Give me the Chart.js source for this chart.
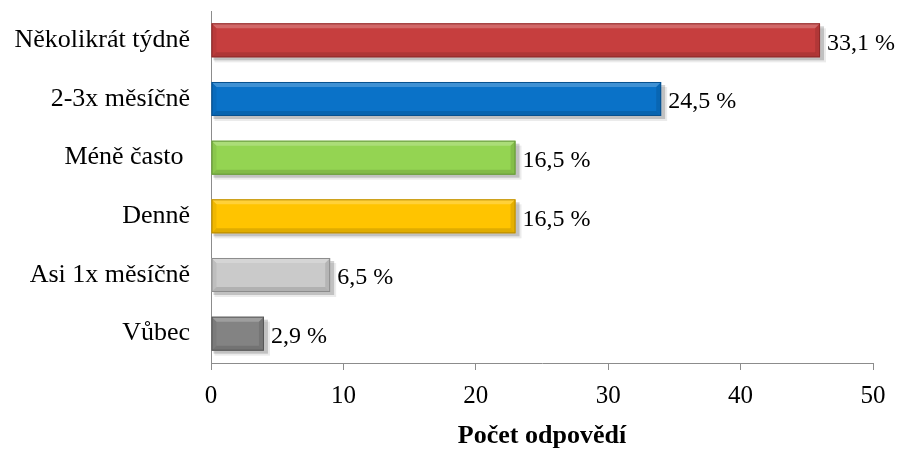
<!DOCTYPE html>
<html>
<head>
<meta charset="utf-8">
<script src="https://cdn.jsdelivr.net/npm/chart.js@4/dist/chart.umd.min.js"></script>
<style>
  html, body { margin: 0; padding: 0; background: #fff; }
  #wrap { width: 904px; height: 449px; }
</style>
</head>
<body>
<div id="wrap"><canvas id="c" width="904" height="449"></canvas></div>
<script>
const categories = ['Několikrát týdně', '2-3x měsíčně', 'Méně často ', 'Denně', 'Asi 1x měsíčně', 'Vůbec'];
const counts = [46, 34, 23, 23, 9, 4];
const percentLabels = ['33,1 %', '24,5 %', '16,5 %', '16,5 %', '6,5 %', '2,9 %'];
const xTicks = [0, 10, 20, 30, 40, 50];
const axisTitle = 'Počet odpovědí';

// bar palettes: [highlight, main, dark]
const palettes = [
  ['#F08A8A', '#C63E3E', '#8E2A2A'],
  ['#52B4F5', '#0A72C8', '#08508E'],
  ['#C2EE96', '#94D452', '#64963A'],
  ['#FFE36E', '#FFC400', '#B88A00'],
  ['#F4F4F4', '#CACACA', '#8C8C8C'],
  ['#B4B4B4', '#838383', '#565656']
];

const FONT = "'Liberation Serif', 'Times New Roman', serif";

function barGradient(ctx, i) {
  const chart = ctx.chart;
  const el = chart.getDatasetMeta(0).data[i];
  if (!el || el.y === undefined || isNaN(el.y)) return palettes[i][1];
  const h = el.height;
  const top = el.y - h / 2;
  const g = chart.ctx.createLinearGradient(0, top, 0, top + h);
  const p = palettes[i];
  g.addColorStop(0, p[0]);
  g.addColorStop(0.2, p[1]);
  g.addColorStop(0.72, p[1]);
  g.addColorStop(1, p[2]);
  return g;
}

const bevelPlugin = {
  id: 'bevel',
  beforeDatasetsDraw(chart) {
    const ctx = chart.ctx;
    const meta = chart.getDatasetMeta(0);
    ctx.save();
    meta.data.forEach((el) => {
      const h = el.height;
      const top = el.y - h / 2;
      ctx.fillStyle = 'rgba(0,0,0,0.18)';
      ctx.fillRect(el.base + 2, top + 3, el.x - el.base + 2, h);
      ctx.fillStyle = 'rgba(0,0,0,0.08)';
      ctx.fillRect(el.base + 3, top + 5, el.x - el.base + 3, h);
    });
    ctx.restore();
  },
  afterDatasetsDraw(chart) {
    const ctx = chart.ctx;
    const meta = chart.getDatasetMeta(0);
    ctx.save();
    meta.data.forEach((el, i) => {
      const h = el.height;
      const top = el.y - h / 2;
      const bot = top + h;
      const x0 = el.base, x1 = el.x;
      const b = 5;
      const p = palettes[i];
      ctx.fillStyle = 'rgba(255,255,255,0.22)';
      ctx.beginPath();
      ctx.moveTo(x0, top); ctx.lineTo(x1, top); ctx.lineTo(x1 - b, top + b); ctx.lineTo(x0 + b, top + b); ctx.closePath();
      ctx.fill();
      ctx.fillStyle = 'rgba(0,0,0,0.12)';
      ctx.beginPath();
      ctx.moveTo(x0, bot); ctx.lineTo(x1, bot); ctx.lineTo(x1 - b, bot - b); ctx.lineTo(x0 + b, bot - b); ctx.closePath();
      ctx.fill();
      ctx.fillStyle = 'rgba(0,0,0,0.10)';
      ctx.beginPath();
      ctx.moveTo(x1, top); ctx.lineTo(x1, bot); ctx.lineTo(x1 - b, bot - b); ctx.lineTo(x1 - b, top + b); ctx.closePath();
      ctx.fill();
      ctx.fillStyle = 'rgba(0,0,0,0.06)';
      ctx.beginPath();
      ctx.moveTo(x0, top); ctx.lineTo(x0, bot); ctx.lineTo(x0 + b, bot - b); ctx.lineTo(x0 + b, top + b); ctx.closePath();
      ctx.fill();
      ctx.strokeStyle = p[2];
      ctx.lineWidth = 1;
      ctx.strokeRect(x0 + 0.5, top + 0.5, x1 - x0 - 1, h - 1);
      ctx.fillStyle = '#000';
      ctx.font = '24px ' + FONT;
      ctx.textAlign = 'left';
      ctx.textBaseline = 'middle';
      ctx.fillText(percentLabels[i], x1 + 7, el.y + 3);
    });
    ctx.restore();
  }
};

new Chart(document.getElementById('c'), {
  type: 'bar',
  data: {
    labels: categories,
    datasets: [{
      data: counts,
      backgroundColor: (ctx) => barGradient(ctx, ctx.dataIndex),
      borderWidth: 0,
      barPercentage: 0.58,
      categoryPercentage: 1.0
    }]
  },
  options: {
    indexAxis: 'y',
    responsive: false,
    animation: false,
    devicePixelRatio: 1,
    layout: { padding: { top: 11, right: 31, left: 0, bottom: 0 } },
    plugins: { legend: { display: false }, tooltip: { enabled: false } },
    scales: {
      x: {
        min: 0, max: 50,
        afterBuildTicks: (s) => { s.ticks = xTicks.map(v => ({ value: v })); },
        afterFit: (s) => { s.height = 86; s.paddingLeft = 0; s.paddingRight = 0; },
        grid: { drawOnChartArea: false, drawTicks: true, tickLength: 7, color: '#8C8C8C' },
        border: { display: true, color: '#8C8C8C', width: 1 },
        ticks: { color: '#000', font: { family: FONT, size: 25 }, padding: 11 },
        title: { display: true, text: axisTitle, color: '#000', font: { family: FONT, size: 26, weight: 'bold', lineHeight: 1 }, padding: { top: 0, bottom: 0 } }
      },
      y: {
        afterFit: (s) => { s.width = 211; s.paddingTop = 0; s.paddingBottom = 0; },
        grid: { display: false, drawTicks: false },
        border: { display: true, color: '#8C8C8C', width: 1 },
        ticks: { color: '#000', font: { family: FONT, size: 26 }, padding: 21 }
      }
    }
  },
  plugins: [bevelPlugin]
});
</script>
</body>
</html>
